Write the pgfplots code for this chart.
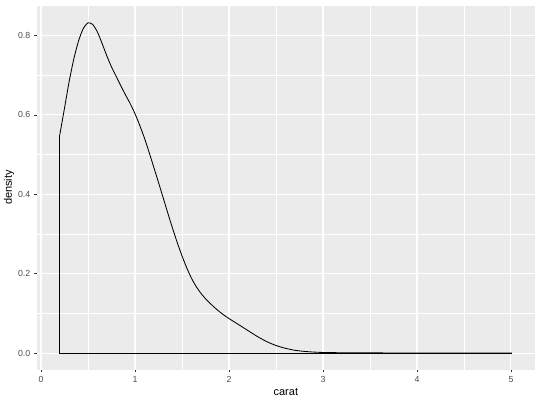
\documentclass[border=0pt]{standalone}
\usepackage{pgfplots}
\pgfplotsset{compat=1.18}
\usepackage{fontspec}
\setmainfont{Liberation Sans}
\definecolor{panelbg}{HTML}{EBEBEB}
\definecolor{ticklab}{HTML}{4D4D4D}
\definecolor{tickcol}{HTML}{333333}
\begin{document}
\begin{tikzpicture}
\useasboundingbox (0,0) rectangle (540pt,400pt);
\begin{axis}[
  at={(37.2pt,30.4pt)}, anchor=south west,
  scale only axis, width=497.3pt, height=364.1pt,
  xmin=-0.0405, xmax=5.2505, ymin=-0.0417, ymax=0.8757,
  axis background/.style={fill=panelbg},
  axis line style={draw=none},
  xtick={0,1,2,3,4,5}, ytick={0,0.2,0.4,0.6,0.8},
  minor xtick={0.5,1.5,2.5,3.5,4.5}, minor ytick={0.1,0.3,0.5,0.7},
  yticklabels={0.0,0.2,0.4,0.6,0.8},
  xticklabels={0,1,2,3,4,5},
  grid=both,
  major grid style={white, line width=1.07pt},
  minor grid style={white, line width=0.53pt},
  tick align=outside, tick pos=left,
  major tick length=2.75pt, minor tick length=0pt,
  tick style={tickcol, line width=0.8pt},
  ticklabel style={font=\fontsize{8.8}{10}\selectfont, text=ticklab},
  /pgf/number format/assume math mode=true,
  xticklabel style={yshift=-0.6pt},
  yticklabel style={xshift=-0.6pt},
  xlabel={carat}, ylabel={density},
  label style={font=\fontsize{11}{13}\selectfont},
  xlabel style={at={(axis description cs:0.5,-0.0698)}, anchor=base},
  ylabel style={at={(axis description cs:-0.0507,0.5)}, anchor=base},
  clip=false,
]
\addplot[black, line width=0.85pt] coordinates {
(0.20,0.550) (0.20,0) (5.01,0)
};
\addplot[black, line width=0.85pt, smooth, tension=0.4] coordinates {
(0.20,0.550) (0.25,0.617) (0.30,0.685) (0.35,0.742) (0.40,0.787)
(0.45,0.818) (0.50,0.832) (0.55,0.828) (0.60,0.809) (0.65,0.780)
(0.70,0.749) (0.75,0.721) (0.80,0.697) (0.85,0.673) (0.90,0.650)
(0.95,0.628) (1.00,0.603) (1.05,0.574) (1.10,0.542) (1.15,0.506)
(1.20,0.468) (1.25,0.430) (1.30,0.391) (1.35,0.352) (1.40,0.314)
(1.45,0.278) (1.50,0.245) (1.55,0.215) (1.60,0.189) (1.65,0.168)
(1.70,0.151) (1.75,0.137) (1.80,0.125) (1.85,0.114) (1.90,0.104)
(1.95,0.095) (2.00,0.087) (2.10,0.072) (2.20,0.057) (2.30,0.042)
(2.40,0.029) (2.50,0.019) (2.60,0.012) (2.70,0.007) (2.80,0.0042)
(2.90,0.0025) (3.00,0.0015) (3.20,0.0008) (3.50,0.0004) (4.00,0.0002)
(4.50,0.0001) (5.01,0)
};
\end{axis}
\end{tikzpicture}
\end{document}
